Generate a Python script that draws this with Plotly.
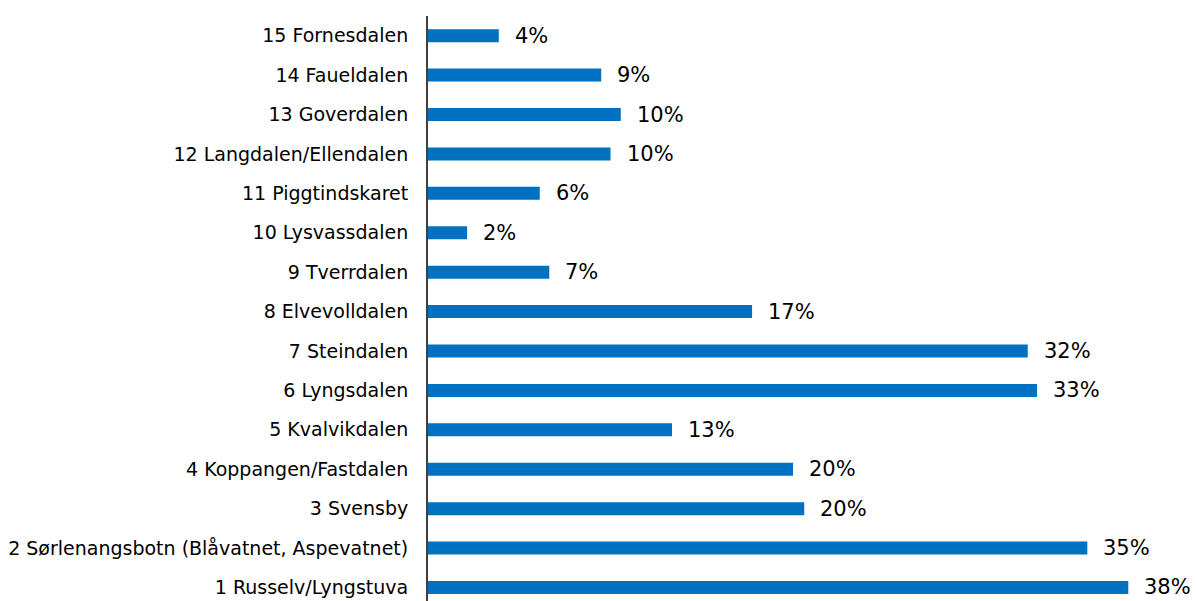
import plotly.graph_objects as go

categories = [
    "1 Russelv/Lyngstuva",
    "2 Sørlenangsbotn (Blåvatnet, Aspevatnet)",
    "3 Svensby",
    "4 Koppangen/Fastdalen",
    "5 Kvalvikdalen",
    "6 Lyngsdalen",
    "7 Steindalen",
    "8 Elvevolldalen",
    "9 Tverrdalen",
    "10 Lysvassdalen",
    "11 Piggtindskaret",
    "12 Langdalen/Ellendalen",
    "13 Goverdalen",
    "14 Faueldalen",
    "15 Fornesdalen",
]
values = [37.6, 35.4, 20.2, 19.6, 13.1, 32.7, 32.2, 17.4, 6.51, 2.1, 6.0, 9.8, 10.35, 9.3, 3.8]
labels = ["38%", "35%", "20%", "20%", "13%", "33%", "32%", "17%", "7%", "2%",
          "6%", "10%", "10%", "9%", "4%"]

FONT = "DejaVu Sans"
BAR = "#0070C0"

fig = go.Figure(go.Bar(
    x=values, y=categories, orientation="h",
    marker=dict(color=BAR, line=dict(width=0)),
    width=0.33, hoverinfo="skip",
))

for v, c, t in zip(values, categories, labels):
    fig.add_annotation(x=v, y=c, text=t, xanchor="left", yanchor="middle",
                       xshift=14, showarrow=False,
                       font=dict(family=FONT, size=21, color="#000000"))

fig.update_layout(
    width=1197, height=601,
    margin=dict(l=428, r=24, t=16, b=0, autoexpand=False),
    paper_bgcolor="white", plot_bgcolor="white",
    showlegend=False,
    font=dict(family=FONT, size=19, color="#000000"),
)
fig.update_xaxes(range=[0, 40], visible=False, showgrid=False, zeroline=False)
fig.update_yaxes(
    type="category", categoryorder="array", categoryarray=categories,
    range=[-0.343, 14.5], showgrid=False, zeroline=False,
    showline=True, linecolor="#404040", linewidth=2,
    ticks="", ticklabelstandoff=14, automargin=False,
    tickfont=dict(family=FONT, size=19, color="#000000"),
)

fig.write_html("out.html", config={"displayModeBar": False},
               post_script="document.body.style.margin='0px';")
